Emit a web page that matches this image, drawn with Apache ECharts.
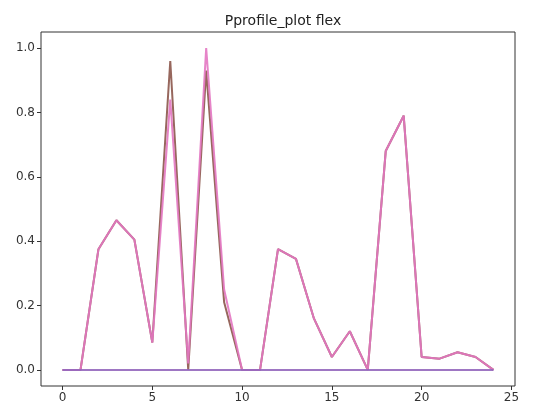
<!DOCTYPE html>
<html>
<head>
<meta charset="utf-8">
<script src="https://cdn.jsdelivr.net/npm/echarts@6/dist/echarts.min.js"></script>
<style>
  html, body { margin: 0; padding: 0; background: #fff; }
  #chart { width: 541px; height: 412px; }
</style>
</head>
<body>
<div id="chart"></div>
<script>
// Profile positions along the x axis
const positions = [0,1,2,3,4,5,6,7,8,9,10,11,12,13,14,15,16,17,18,19,20,21,22,23,24];

// Profile values, one array per run
const profileBrown = [0, 0, 0.375, 0.465, 0.405, 0.085, 0.96, 0.0, 0.93, 0.21, 0, 0, 0.375, 0.345, 0.16, 0.04, 0.12, 0.0, 0.68, 0.79, 0.04, 0.035, 0.055, 0.04, 0];
const profilePink  = [0, 0, 0.375, 0.465, 0.405, 0.085, 0.84, 0.02, 1.0, 0.25, 0, 0, 0.375, 0.345, 0.16, 0.04, 0.12, 0.0, 0.68, 0.79, 0.04, 0.035, 0.055, 0.04, 0];
const profileFlat  = [0, 0, 0, 0, 0, 0, 0, 0, 0, 0, 0, 0, 0, 0, 0, 0, 0, 0, 0, 0, 0, 0, 0, 0, 0];

// Tick labels
const xTicks = [0, 5, 10, 15, 20, 25];
const yTicks = [0, 0.2, 0.4, 0.6, 0.8, 1.0];

const pairs = ys => positions.map((x, i) => [x, ys[i]]);

const lineSeries = (name, ys, color) => ({
  name,
  type: 'line',
  data: pairs(ys),
  showSymbol: false,
  symbol: 'none',
  lineStyle: { color, width: 2, opacity: 0.9 },
  itemStyle: { color },
  animation: false
});

const font = 'DejaVu Sans';
const chart = echarts.init(document.getElementById('chart'), null, { renderer: 'canvas' });
chart.setOption({
  backgroundColor: '#fff',
  animation: false,
  title: {
    text: 'Pprofile_plot flex',
    left: 278,
    textAlign: 'center',
    top: 9,
    textStyle: { fontFamily: font, fontSize: 14, fontWeight: 'normal', color: '#222' }
  },
  grid: {
    left: 41, right: 26, top: 32, bottom: 26,
    show: true, borderColor: '#333', borderWidth: 1, backgroundColor: 'transparent'
  },
  xAxis: {
    type: 'value',
    min: -1.2, max: 25.2,
    axisLine: { show: false, onZero: false },
    splitLine: { show: false },
    axisTick: { show: true, inside: false, length: 4, lineStyle: { color: '#333' }, customValues: xTicks },
    axisLabel: { show: true, customValues: xTicks, margin: 6, fontFamily: font, fontSize: 12, color: '#333' }
  },
  yAxis: {
    type: 'value',
    min: -0.05, max: 1.05,
    axisLine: { show: false, onZero: false },
    splitLine: { show: false },
    axisTick: { show: true, inside: false, length: 4, lineStyle: { color: '#333' }, customValues: yTicks },
    axisLabel: { show: true, customValues: yTicks, margin: 6, fontFamily: font, fontSize: 12, color: '#333',
      formatter: v => v.toFixed(1) }
  },
  series: [
    lineSeries('brown', profileBrown, '#8c564b'),
    lineSeries('pink', profilePink, '#e377c2'),
    lineSeries('flat', profileFlat, '#9467bd')
  ]
});
</script>
</body>
</html>
